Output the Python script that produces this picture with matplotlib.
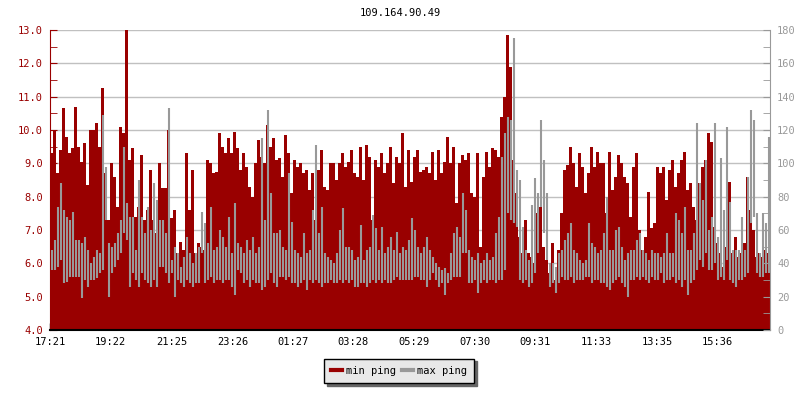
from matplotlib import pyplot as plt
from matplotlib.lines import Line2D
from matplotlib.ticker import MultipleLocator
import numpy as np

plt.rcParams['font.family'] = ['DejaVu Sans Mono']

RED = '#990000'
GREY = '#999999'

# one sample every 6 minutes, starting 17:21
min_ping = [
    9.3, 10.0, 8.7, 9.4, 10.65, 9.8, 9.3, 9.45, 10.7, 9.5, 9.05, 9.6, 8.35, 10.0, 10.0, 10.2, 9.5, 11.25, 8.7, 7.3,
    9.0, 8.6, 7.7, 10.1, 9.9, 13.0, 9.1, 9.45, 7.4, 7.7, 9.25, 7.3, 7.6, 8.8, 7.3, 6.9, 9.0, 8.25, 8.25, 10.0,
    7.35, 7.6, 6.3, 6.65, 6.4, 9.3, 7.6, 8.8, 6.3, 6.6, 6.5, 6.4, 9.1, 9.0, 8.7, 8.75, 9.9, 9.5, 9.3, 9.75,
    9.3, 9.95, 9.45, 8.8, 9.3, 8.9, 8.3, 8.0, 9.0, 9.7, 9.2, 9.0, 10.15, 9.5, 9.75, 9.1, 9.15, 8.6, 9.85, 9.3,
    8.1, 9.1, 8.9, 9.0, 8.7, 8.8, 8.2, 8.7, 7.3, 8.8, 9.4, 8.3, 8.2, 9.0, 9.0, 8.5, 9.0, 9.3, 8.9, 9.05,
    9.4, 8.7, 8.6, 9.5, 8.5, 9.55, 9.2, 7.3, 9.1, 8.9, 9.3, 8.7, 9.0, 9.5, 8.4, 9.2, 9.0, 9.9, 8.3, 9.4,
    8.45, 9.2, 9.4, 8.75, 8.8, 8.9, 8.7, 9.35, 8.5, 9.4, 8.7, 9.05, 9.8, 9.0, 9.5, 7.8, 9.0, 9.25, 9.1, 9.3,
    8.1, 8.0, 9.3, 6.5, 8.6, 9.35, 8.9, 9.45, 9.4, 9.2, 10.4, 11.0, 12.85, 11.9, 9.1, 8.1, 6.8, 6.3, 7.3, 6.3,
    6.2, 6.0, 7.5, 7.7, 6.5, 6.1, 5.7, 6.6, 5.5, 6.4, 7.5, 8.8, 8.95, 9.5, 9.0, 8.3, 9.3, 8.9, 8.1, 8.7,
    9.5, 8.9, 9.35, 9.0, 9.0, 7.5, 9.35, 8.2, 8.6, 9.25, 9.0, 8.6, 8.4, 7.4, 8.9, 9.3, 7.0, 6.4, 6.8, 8.15,
    7.05, 7.2, 8.9, 8.7, 8.9, 7.9, 8.8, 9.1, 8.3, 8.7, 9.1, 9.35, 8.2, 8.4, 7.7, 7.3, 8.4, 8.9, 9.1, 9.9,
    9.65, 7.1, 6.6, 6.3, 5.9, 6.5, 8.45, 6.3, 6.8, 6.2, 6.3, 6.6, 8.6, 7.6, 7.0, 6.2, 6.3, 6.2, 6.4, 6.3,
]

# max ping swings inside each 6 minute slot: upper and lower envelope
max_ping_hi = [
    48, 54, 74, 88, 72, 68, 66, 71, 54, 54, 52, 56, 48, 40, 44, 48, 46, 129, 98, 52,
    50, 52, 58, 66, 110, 76, 68, 68, 48, 90, 68, 58, 74, 60, 88, 78, 66, 66, 58, 133,
    42, 50, 46, 38, 44, 56, 46, 40, 46, 50, 71, 64, 52, 74, 48, 50, 60, 56, 50, 68,
    46, 76, 52, 50, 46, 54, 48, 56, 46, 50, 115, 66, 132, 82, 58, 58, 60, 50, 48, 94,
    65, 48, 46, 44, 58, 46, 48, 72, 111, 58, 74, 46, 44, 42, 40, 46, 60, 73, 50, 50,
    48, 42, 44, 63, 42, 48, 50, 69, 61, 48, 62, 46, 50, 56, 48, 59, 46, 50, 48, 54,
    67, 60, 50, 46, 50, 56, 48, 44, 40, 38, 36, 37, 34, 46, 58, 62, 56, 82, 72, 48,
    44, 42, 46, 40, 42, 46, 42, 44, 58, 68, 104, 118, 128, 126, 175, 96, 90, 62, 48, 42,
    75, 91, 82, 126, 102, 82, 40, 40, 38, 46, 48, 54, 58, 64, 48, 46, 42, 40, 42, 64,
    52, 50, 46, 48, 58, 80, 48, 48, 60, 62, 50, 42, 46, 48, 48, 54, 58, 48, 46, 42,
    48, 46, 46, 44, 46, 58, 46, 46, 70, 66, 58, 74, 48, 48, 58, 124, 88, 78, 102, 60,
    68, 124, 56, 103, 72, 122, 77, 48, 48, 48, 68, 48, 92, 132, 126, 70, 46, 70, 64, 116,
]
max_ping_lo = [
    36, 36, 38, 42, 28, 29, 32, 32, 32, 32, 19, 30, 26, 30, 30, 31, 34, 36, 66, 20,
    34, 38, 42, 46, 58, 54, 26, 34, 30, 26, 34, 30, 28, 26, 30, 26, 38, 38, 34, 28,
    34, 20, 30, 28, 26, 30, 28, 26, 28, 28, 46, 28, 30, 32, 28, 30, 30, 28, 30, 30,
    26, 21, 36, 34, 28, 30, 26, 30, 28, 28, 24, 26, 30, 34, 28, 26, 32, 32, 30, 32,
    28, 28, 26, 28, 30, 24, 30, 28, 30, 28, 26, 28, 28, 30, 28, 28, 30, 28, 30, 28,
    30, 26, 26, 28, 28, 26, 28, 30, 28, 30, 28, 30, 28, 28, 30, 32, 30, 30, 30, 30,
    30, 32, 32, 30, 30, 26, 30, 34, 30, 26, 28, 21, 28, 30, 32, 32, 32, 46, 46, 28,
    28, 30, 22, 28, 30, 28, 30, 30, 28, 30, 30, 36, 70, 66, 64, 62, 30, 28, 30, 26,
    28, 34, 46, 74, 58, 42, 26, 28, 22, 28, 32, 30, 30, 32, 28, 30, 30, 30, 32, 32,
    28, 30, 30, 28, 28, 26, 24, 28, 30, 32, 28, 26, 20, 30, 30, 32, 30, 32, 30, 28,
    32, 30, 30, 34, 28, 30, 30, 32, 28, 30, 26, 30, 21, 28, 30, 36, 42, 38, 46, 36,
    36, 40, 30, 32, 30, 42, 30, 28, 26, 30, 30, 32, 34, 64, 68, 34, 32, 32, 34, 34,
]

tick_labels = ['17:21', '19:22', '21:25', '23:26', '01:27', '03:28',
               '05:29', '07:30', '09:31', '11:33', '13:35', '15:36']

# minutes since 17:21
edges = np.arange(len(min_ping) + 1) * 6
centers = edges[:-1] + 3
start = 17 * 60 + 21
tick_pos = [((int(t[:2]) * 60 + int(t[3:])) - start) % 1440 for t in tick_labels]

fig = plt.figure(figsize=(8, 4), dpi=100)
ax = fig.add_axes([50 / 800, 70 / 400, 720 / 800, 300 / 400])
ax2 = ax.twinx()

ax.stairs(min_ping, edges, baseline=4, fill=True, color=RED, lw=0)
ax2.vlines(centers, max_ping_lo, max_ping_hi, color=GREY, lw=1.5)

ax.set_xlim(0, 1440)
ax.set_ylim(4, 13)
ax2.set_ylim(0, 180)

ax.set_yticks(np.arange(4, 13.5, 1))
ax.set_yticklabels(['%.1f' % v for v in np.arange(4, 13.5, 1)])
ax.yaxis.set_minor_locator(MultipleLocator(0.5))
ax2.set_yticks(range(0, 181, 20))
ax2.yaxis.set_minor_locator(MultipleLocator(10))
ax.set_xticks(tick_pos)
ax.set_xticklabels(tick_labels)

ax.tick_params(axis='y', which='both', direction='in', length=5, color=RED,
               labelcolor=RED, labelsize=7.5, pad=5)
ax2.tick_params(axis='y', which='both', direction='in', length=5, color=GREY,
                labelcolor=GREY, labelsize=7.5, pad=5)
ax.tick_params(axis='x', direction='in', length=5, color='black', width=1,
               labelsize=7.5, pad=5)

ax.yaxis.grid(True, color='#c0c0c0', lw=1)
ax.set_axisbelow(True)

for a in (ax, ax2):
    a.spines['top'].set_visible(False)
ax.spines['right'].set_visible(False)
ax2.spines['left'].set_visible(False)
ax2.spines['bottom'].set_visible(False)
ax.spines['left'].set_color(RED)
ax2.spines['right'].set_color(GREY)
ax.spines['bottom'].set_linewidth(1.5)

fig.text(0.5, 1 - 13 / 400, '109.164.90.49', ha='center', va='center', fontsize=7.5)

handles = [Line2D([], [], color=RED, lw=3), Line2D([], [], color=GREY, lw=3)]
leg = fig.legend(handles, ['min ping', 'max ping'], loc='center',
                 bbox_to_anchor=(399 / 800, 1 - 371 / 400), ncol=2, fontsize=7.5,
                 frameon=True, fancybox=False, shadow={'color': '#666666', 'alpha': 1},
                 handlelength=1.0, handletextpad=0.4, columnspacing=0.6,
                 borderpad=0.7, borderaxespad=0)
leg.get_frame().set_facecolor('#e8e8e8')
leg.get_frame().set_edgecolor('black')
leg.get_frame().set_linewidth(1)
leg.get_frame().set_alpha(1)

fig.savefig('out.png', dpi=100)
